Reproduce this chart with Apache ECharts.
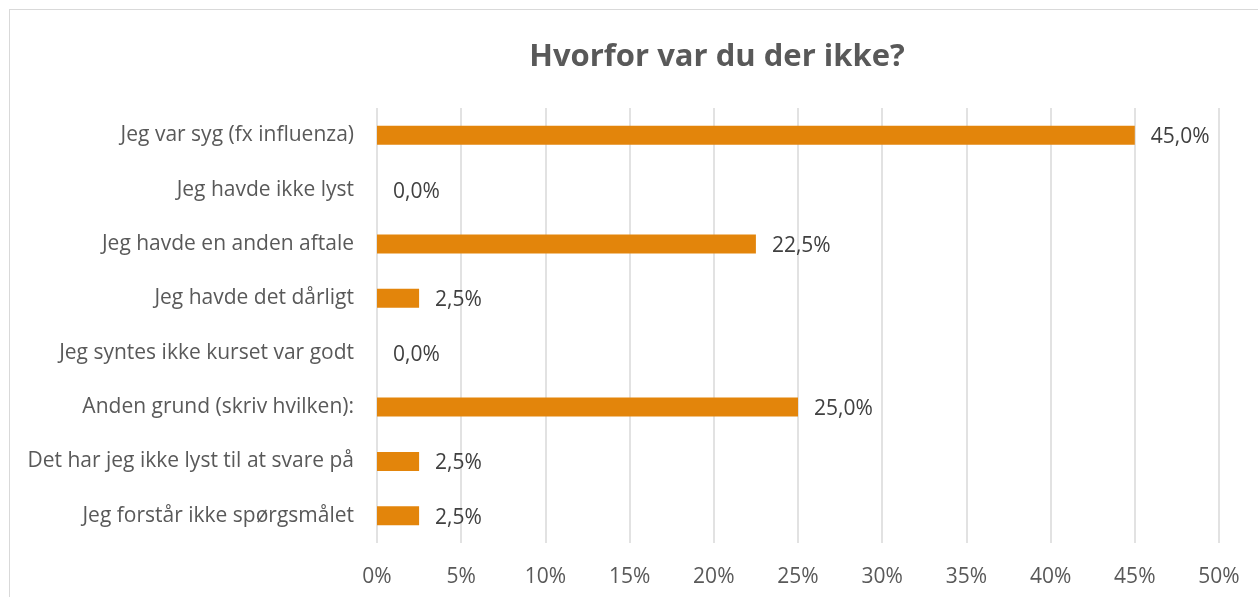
<!DOCTYPE html>
<html>
<head>
<meta charset="utf-8">
<script src="https://cdn.jsdelivr.net/npm/echarts@6/dist/echarts.min.js"></script>
<style>
html,body{margin:0;padding:0;background:#fff;overflow:hidden}
#frame{position:absolute;left:9px;top:9px;width:1300px;height:700px;border:1px solid #d9d9d9;box-sizing:border-box}
#chart{position:absolute;left:0;top:0;width:1258px;height:597px}
</style>
</head>
<body>
<div id="frame"></div>
<div id="chart"></div>
<script>
const title="Hvorfor var du der ikke?";
const categories=[
  "Jeg var syg (fx influenza)",
  "Jeg havde ikke lyst",
  "Jeg havde en anden aftale",
  "Jeg havde det dårligt",
  "Jeg syntes ikke kurset var godt",
  "Anden grund (skriv hvilken):",
  "Det har jeg ikke lyst til at svare på",
  "Jeg forstår ikke spørgsmålet"
];
const values=[45.0,0.0,22.5,2.5,0.0,25.0,2.5,2.5];

const font="'Open Sans', 'Noto Sans', sans-serif";
const chart=echarts.init(document.querySelector("#chart"));
chart.setOption({
  animation:false,
  title:{
    text:title,left:712,top:37,textAlign:"center",
    textStyle:{fontFamily:font,fontSize:31,fontWeight:"bold",color:"#595959"}
  },
  grid:{left:377,right:39,top:108,bottom:54,containLabel:false},
  xAxis:{
    type:"value",min:0,max:50,interval:5,
    axisLine:{show:false},axisTick:{show:false},
    splitLine:{lineStyle:{color:"#d9d9d9",width:1.5}},
    axisLabel:{formatter:v=>v+"%",color:"#595959",fontFamily:font,fontSize:21,margin:24}
  },
  yAxis:{
    type:"category",inverse:true,data:categories,
    axisLine:{show:false},axisTick:{show:false},
    axisLabel:{color:"#595959",fontFamily:font,fontSize:21,margin:23,padding:[4,0,0,0]}
  },
  series:[{
    type:"bar",data:values,barWidth:19,
    itemStyle:{color:"#e3850b"},
    label:{
      show:true,position:"right",distance:16,offset:[0,2],
      formatter:p=>p.value.toFixed(1).replace(".",",")+"%",
      color:"#404040",fontFamily:font,fontSize:21
    }
  }]
});
</script>
</body>
</html>
